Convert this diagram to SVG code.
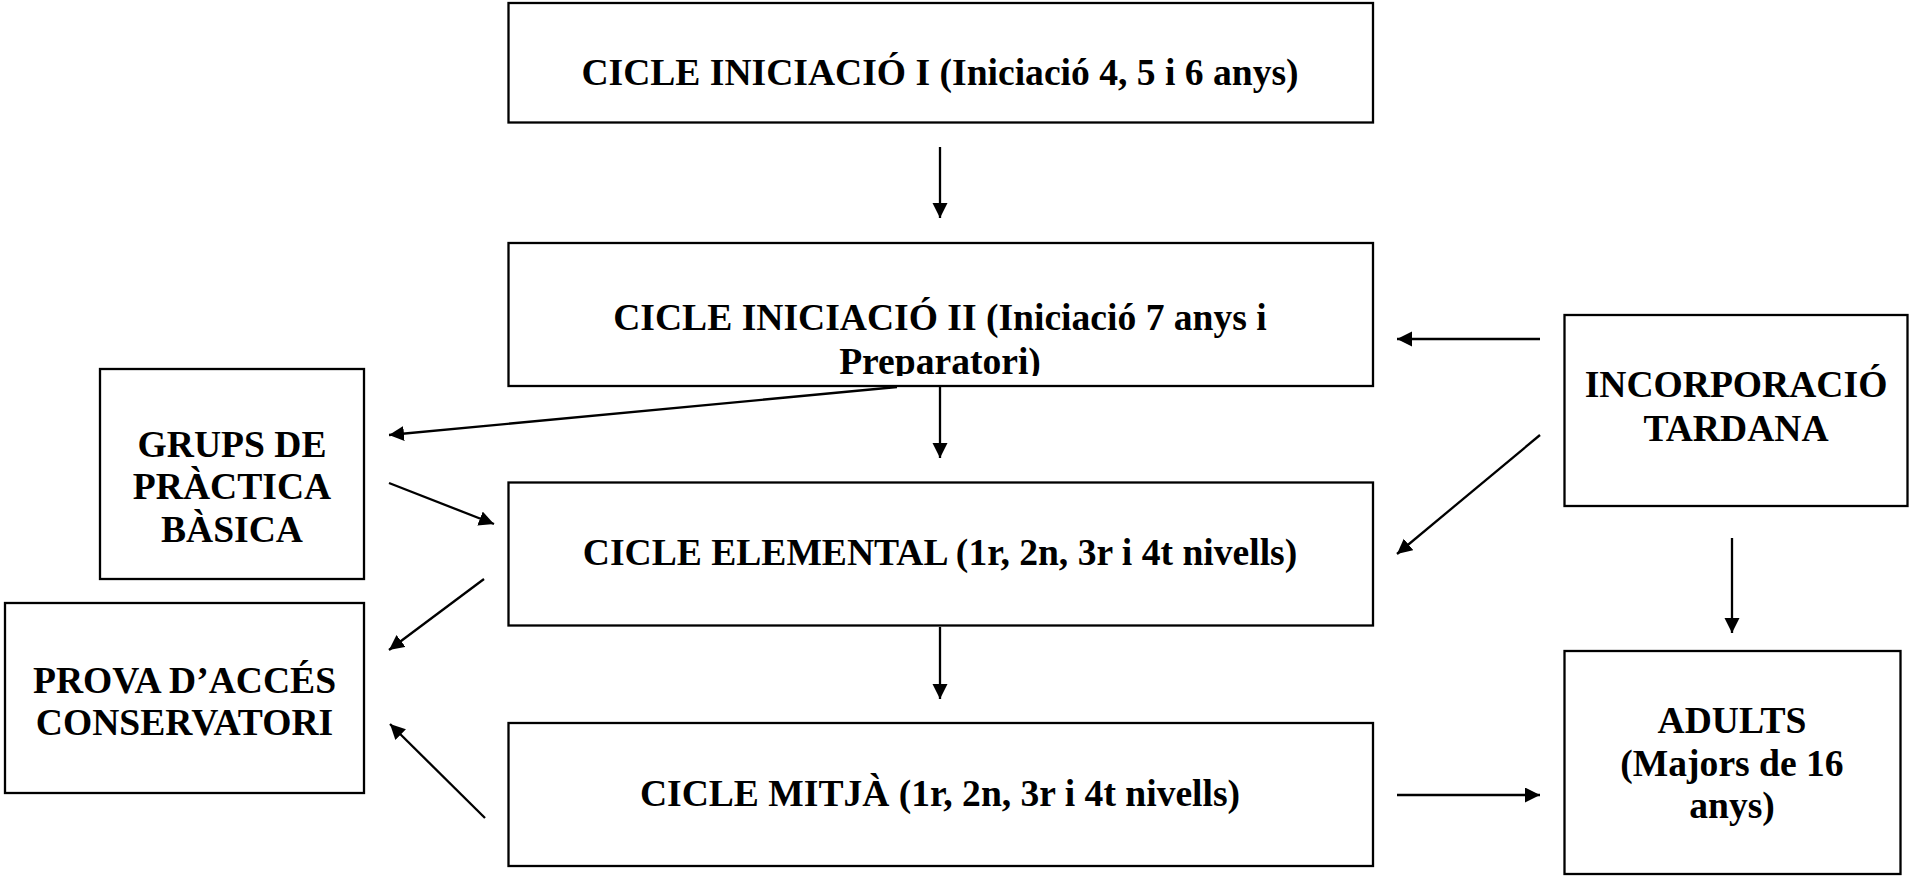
<svg xmlns="http://www.w3.org/2000/svg" width="1910" height="877" viewBox="0 0 1910 877">
<style>
.box{fill:#fff;stroke:#000;stroke-width:2.3}
.t{font-family:"Liberation Serif","Times New Roman",serif;font-weight:bold;font-size:37.6px;fill:#000;text-anchor:middle}
.c{stroke:#000;stroke-width:2.3;fill:none;marker-end:url(#ah)}
</style>
<defs>
<marker id="ah" markerUnits="userSpaceOnUse" markerWidth="16" markerHeight="16" refX="15" refY="7.5" orient="auto">
<path d="M0,0 L15,7.5 L0,15 z" fill="#000"/>
</marker>
<clipPath id="clip2"><rect x="508" y="243" width="865" height="133"/></clipPath>
</defs>
<rect width="1910" height="877" fill="#fff"/>
<g id="n1"><rect class="box" x="508.5" y="3" width="864.5" height="119.5"/><text class="t" x="940" y="85">CICLE INICIACIÓ I (Iniciació 4, 5 i 6 anys)</text></g>
<g id="n2"><rect class="box" x="508.5" y="243" width="864.5" height="143"/><g clip-path="url(#clip2)"><text class="t" x="940" y="330">CICLE INICIACIÓ II (Iniciació 7 anys i</text><text class="t" x="940" y="374">Preparatori)</text></g></g>
<g id="n3"><rect class="box" x="508.5" y="482.5" width="864.5" height="143"/><text class="t" x="940" y="565">CICLE ELEMENTAL (1r, 2n, 3r i 4t nivells)</text></g>
<g id="n4"><rect class="box" x="508.5" y="723" width="864.5" height="143"/><text class="t" x="940" y="806">CICLE MITJÀ (1r, 2n, 3r i 4t nivells)</text></g>
<g id="n5"><rect class="box" x="100" y="369" width="264" height="210"/><text class="t" x="232" y="457">GRUPS DE</text><text class="t" x="232" y="499">PRÀCTICA</text><text class="t" x="232" y="542">BÀSICA</text></g>
<g id="n6"><rect class="box" x="5" y="603" width="359" height="190"/><text class="t" x="184.5" y="693">PROVA D’ACCÉS</text><text class="t" x="184.5" y="735">CONSERVATORI</text></g>
<g id="n7"><rect class="box" x="1564.5" y="315" width="343" height="191"/><text class="t" x="1736" y="397">INCORPORACIÓ</text><text class="t" x="1736" y="441">TARDANA</text></g>
<g id="n8"><rect class="box" x="1564.5" y="651" width="336" height="223"/><text class="t" x="1732" y="733">ADULTS</text><text class="t" x="1732" y="776">(Majors de 16</text><text class="t" x="1732" y="818">anys)</text></g>
<g id="connectors">
<line class="c" x1="940" y1="147" x2="940" y2="218"/>
<line class="c" x1="940" y1="387" x2="940" y2="458"/>
<line class="c" x1="940" y1="627" x2="940" y2="699"/>
<line class="c" x1="897" y1="387" x2="389" y2="435"/>
<line class="c" x1="389" y1="483" x2="494" y2="524"/>
<line class="c" x1="484" y1="579" x2="389" y2="650"/>
<line class="c" x1="485" y1="818" x2="390" y2="724"/>
<line class="c" x1="1540" y1="339" x2="1397" y2="339"/>
<line class="c" x1="1540" y1="435" x2="1397" y2="554"/>
<line class="c" x1="1732" y1="538" x2="1732" y2="633"/>
<line class="c" x1="1397" y1="795" x2="1540" y2="795"/>
</g>
</svg>
